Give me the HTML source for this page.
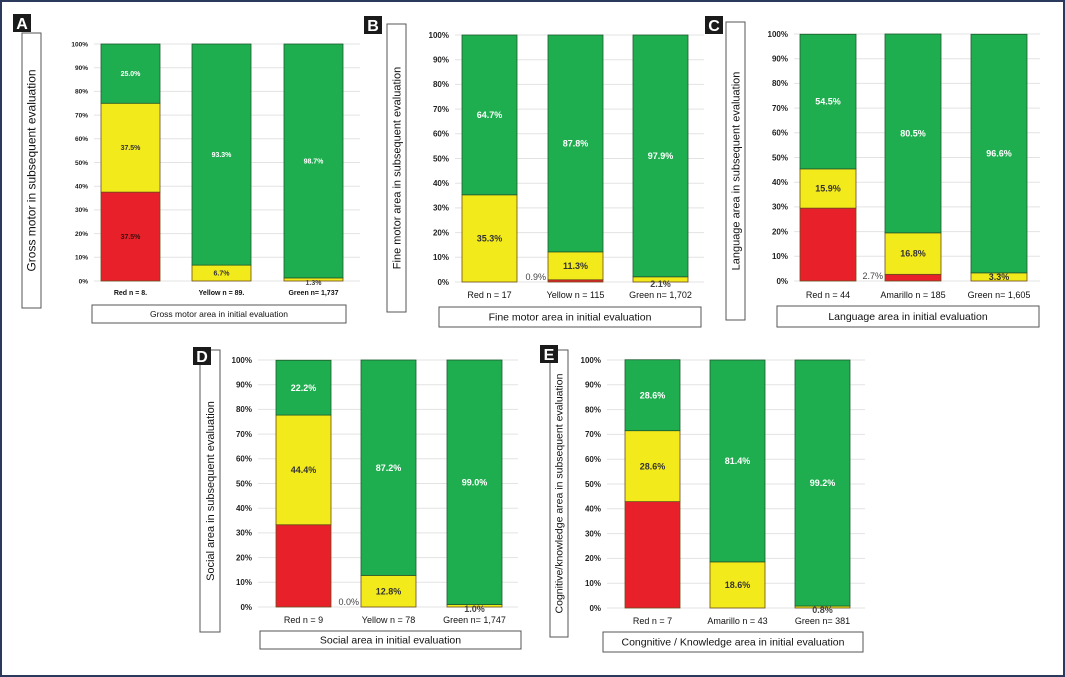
<!DOCTYPE html>
<html><head><meta charset="utf-8"><style>
html,body{margin:0;padding:0;background:#fff}
svg{display:block;font-family:"Liberation Sans",Arial,sans-serif}
</style></head><body>
<svg id="fig" width="1065" height="677" viewBox="0 0 1065 677">
<rect x="1" y="1" width="1063" height="675" fill="#fff" stroke="#2b3a5c" stroke-width="2"/>
</svg>
<script>
// Data per panel: [red, yellow, green] percentages for each category
const catsA = ["Red n = 8.", "Yellow  n = 89.", "Green n= 1,737"];
const redA = [37.5, 0, 0];
const yelA = [37.5, 6.7, 1.3];
const grnA = [25.0, 93.3, 98.7];
const catsB = ["Red n = 17", "Yellow  n = 115", "Green n= 1,702"];
const redB = [0, 0.9, 0];
const yelB = [35.3, 11.3, 2.1];
const grnB = [64.7, 87.8, 97.9];
const catsC = ["Red n = 44", "Amarillo  n = 185", "Green n= 1,605"];
const redC = [29.5, 2.7, 0];
const yelC = [15.9, 16.8, 3.3];
const grnC = [54.5, 80.5, 96.6];
const catsD = ["Red n = 9", "Yellow n = 78", "Green n= 1,747"];
const redD = [33.3, 0.0, 0];
const yelD = [44.4, 12.8, 1.0];
const grnD = [22.2, 87.2, 99.0];
const catsE = ["Red n = 7", "Amarillo n = 43", "Green n= 381"];
const redE = [42.9, 0, 0];
const yelE = [28.6, 18.6, 0.8];
const grnE = [28.6, 81.4, 99.2];
const ticks = [0,10,20,30,40,50,60,70,80,90,100];

const NS = "http://www.w3.org/2000/svg";
const svg = document.getElementById("fig");
function mk(tag, attrs, parent){const e=document.createElementNS(NS,tag);for(const k in attrs)e.setAttribute(k,attrs[k]);(parent||svg).appendChild(e);return e;}

const panels = [
 {id:"a",letter:"A",cats:catsA,red:redA,yel:yelA,grn:grnA,badge:[13,14],ybox:[22,33,19,275],ytitle:"Gross motor in subsequent evaluation",ytfs:12,
  top:44,bot:281,bars:[101,192,284],bw:59,tickX:88,gridR:360,catY:295,xbox:[92,305,254,18],xtitle:"Gross motor area in initial evaluation",fs:6.5,lfs:7,redLab:[true,false,false],outRed:[false,false,false]},
 {id:"b",letter:"B",cats:catsB,red:redB,yel:yelB,grn:grnB,badge:[364,16],ybox:[387,24,19,288],ytitle:"Fine motor area in subsequent evaluation",ytfs:11,
  top:35,bot:282,bars:[462,548,633],bw:55,tickX:449,gridR:704,catY:298,xbox:[439,307,262,20],xtitle:"Fine motor area in initial evaluation",fs:8,lfs:9,redLab:[false,false,false],outRed:[false,true,false]},
 {id:"c",letter:"C",cats:catsC,red:redC,yel:yelC,grn:grnC,badge:[705,16],ybox:[726,22,19,298],ytitle:"Language area in subsequent evaluation",ytfs:11,
  top:34,bot:281,bars:[800,885,971],bw:56,tickX:788,gridR:1040,catY:298,xbox:[777,306,262,21],xtitle:"Language area in initial evaluation",fs:8,lfs:9,redLab:[false,false,false],outRed:[false,true,false]},
 {id:"d",letter:"D",cats:catsD,red:redD,yel:yelD,grn:grnD,badge:[193,347],ybox:[200,350,20,282],ytitle:"Social area in subsequent evaluation",ytfs:11,
  top:360,bot:607,bars:[276,361,447],bw:55,tickX:252,gridR:518,catY:623,xbox:[260,631,261,18],xtitle:"Social area in initial evaluation",fs:8,lfs:9,redLab:[false,false,false],outRed:[false,true,false]},
 {id:"e",letter:"E",cats:catsE,red:redE,yel:yelE,grn:grnE,badge:[540,345],ybox:[550,350,18,287],ytitle:"Cognitive/knowledge area in subsequent evaluation",ytfs:10.5,
  top:360,bot:608,bars:[625,710,795],bw:55,tickX:601,gridR:865,catY:624,xbox:[603,632,260,20],xtitle:"Congnitive / Knowledge area in initial evaluation",fs:8,lfs:9,redLab:[false,false,false],outRed:[false,false,false]}
];

panels.forEach(p=>{
  const g = mk("g",{});
  
  
  const y = v => p.bot - (p.bot-p.top)*v/100;
  // y title box
  const yb = mk("rect",{x:p.ybox[0],y:p.ybox[1],width:p.ybox[2],height:p.ybox[3],fill:"#fff",stroke:"#555","stroke-width":1},g);
  
  
  const cx = p.ybox[0]+p.ybox[2]/2+p.ytfs*0.35, cy = p.ybox[1]+p.ybox[3]/2;
  const yt = mk("text",{x:cx,y:cy,"text-anchor":"middle","font-size":p.ytfs,fill:"#111",transform:`rotate(-90 ${cx} ${cy})`},g);
  yt.textContent=p.ytitle;
  
  
  // badge (drawn on top of box)
  const b = mk("rect",{x:p.badge[0],y:p.badge[1],width:18,height:18,fill:"#1a1a1a"},g);
  
  
  const bt = mk("text",{x:p.badge[0]+9,y:p.badge[1]+15,"text-anchor":"middle","font-size":16,"font-weight":"bold",fill:"#fff"},g);
  bt.textContent=p.letter;
  
  
  // grid + ticks
  ticks.forEach(t=>{
    const gl = mk("line",{x1:p.tickX+6,x2:p.gridR,y1:y(t),y2:y(t),stroke:"#e3e3e3","stroke-width":1},g);
    
    
    const tl = mk("text",{x:p.tickX,y:y(t)+p.fs*0.35,"text-anchor":"end","font-size":p.fs,"font-weight":"bold",fill:"#222"},g);
    tl.textContent=t+"%";
    
    
  });
  // bars
  p.cats.forEach((c,i)=>{
    const x0 = p.bars[i], r=p.red[i], yl=p.yel[i], gr=p.grn[i];
    const segs=[["red",0,r,"#e8202a"],["yellow",r,r+yl,"#f3ea1c"],["green",r+yl,r+yl+gr,"#1fae4f"]];
    segs.forEach(s=>{
      if(s[2]-s[1]<=0) return;
      const rc = mk("rect",{x:x0,y:y(s[2]),width:p.bw,height:y(s[1])-y(s[2]),fill:s[3],stroke:s[0]=="green"?"#1d5a2c":"#6a4a1a","stroke-width":0.8},g);
      
      
    });
    const lab=(v,lo,hi,col)=>{
      const t = mk("text",{x:x0+p.bw/2,y:(y(lo)+y(hi))/2+p.lfs*0.35,"text-anchor":"middle","font-size":p.lfs,"font-weight":"bold",fill:col},g);
      t.textContent=v.toFixed(1)+"%";
      
      
    };
    if(p.redLab[i]&&r>0) lab(r,0,r,"#3a1010");
    if(yl>0){
      if(yl<3){
        const t = mk("text",{x:x0+p.bw/2,y:p.bot+p.lfs*0.55,"text-anchor":"middle","font-size":p.lfs,"font-weight":"bold",fill:"#444"},g);
        t.textContent=yl.toFixed(1)+"%";
        
        
      } else lab(yl,r,r+yl,"#333");
    }
    lab(gr,r+yl,r+yl+gr,"#fff");
    if(p.outRed[i]){
      const t = mk("text",{x:x0-2,y:p.bot-2,"text-anchor":"end","font-size":p.lfs,fill:"#444"},g);
      t.textContent=r.toFixed(1)+"%";
      
      
    }
    const ct = mk("text",{x:x0+p.bw/2,y:p.catY,"text-anchor":"middle","font-size":p.lfs,"font-weight":p.id=="a"?"bold":"normal",fill:"#111"},g);
    ct.textContent=c;
    
    
  });
  const xb = mk("rect",{x:p.xbox[0],y:p.xbox[1],width:p.xbox[2],height:p.xbox[3],fill:"#fff",stroke:"#555","stroke-width":1},g);
  
  
  const xt = mk("text",{x:p.xbox[0]+p.xbox[2]/2,y:p.xbox[1]+p.xbox[3]/2+p.lfs*0.4,"text-anchor":"middle","font-size":p.lfs+1.5,fill:"#111"},g);
  xt.textContent=p.xtitle;
  
  
});
</script>
</body></html>
